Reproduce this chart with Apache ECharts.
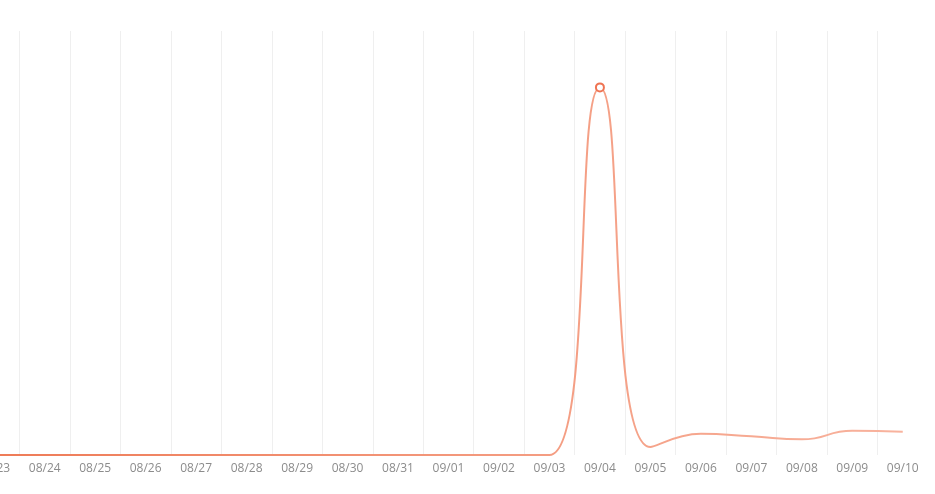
<!DOCTYPE html>
<html>
<head>
<meta charset="utf-8">
<script src="https://cdn.jsdelivr.net/npm/echarts@6/dist/echarts.min.js"></script>
<style>
html,body{margin:0;padding:0;background:#fff;overflow:hidden;}
#chart{position:absolute;left:-31px;top:0;width:966px;height:494px;}
</style>
</head>
<body>
<div id="chart"></div>
<script>
var categories = ['08/23','08/24','08/25','08/26','08/27','08/28','08/29','08/30','08/31','09/01','09/02','09/03','09/04','09/05','09/06','09/07','09/08','09/09','09/10'];
var values = [0,0,0,0,0,0,0,0,0,0,0,0,867,19,50,44,37,57,55];
var highlightIndex = 12;

var seriesData = values.map(function(v, i){
  if (i === highlightIndex) {
    return {value: v, symbol: 'circle', symbolSize: 8,
      itemStyle: {color: '#fff', borderColor: '#ef7352', borderWidth: 2}};
  }
  return {value: v};
});

var chart = echarts.init(document.getElementById('chart'), null, {renderer: 'canvas'});
chart.setOption({
  animation: false,
  grid: {left: 0, right: 7, top: 31, bottom: 39, containLabel: false},
  xAxis: {
    type: 'category',
    data: categories,
    boundaryGap: true,
    axisLine: {show: false},
    axisTick: {show: false},
    axisLabel: {color: '#8c8c8c', fontSize: 12, fontFamily: 'Open Sans', margin: 8},
    splitLine: {show: true, showMinLine: false, showMaxLine: false, lineStyle: {color: '#efefef', width: 1}}
  },
  yAxis: {
    type: 'value',
    min: 0,
    max: 1000,
    show: false,
    splitLine: {show: false}
  },
  series: [{
    type: 'line',
    smooth: true,
    symbol: 'none',
    showSymbol: true,
    data: seriesData,
    lineStyle: {
      width: 2,
      color: {
        type: 'linear', x: 0, y: 0, x2: 1, y2: 0,
        colorStops: [{offset: 0, color: '#ee7b57'}, {offset: 1, color: '#f8b39e'}]
      }
    }
  }]
});
</script>
</body>
</html>
